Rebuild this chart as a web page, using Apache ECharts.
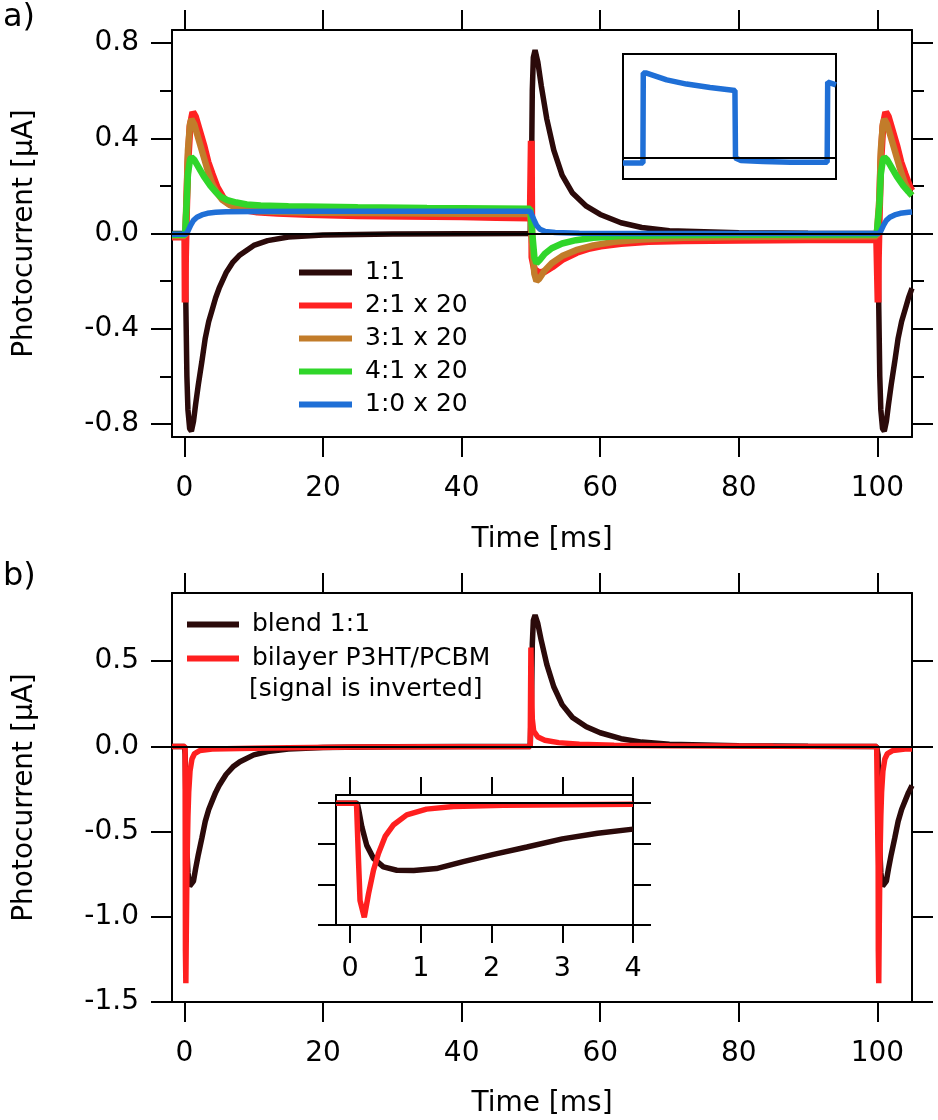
<!DOCTYPE html>
<html><head><meta charset="utf-8">
<script src="https://cdn.jsdelivr.net/npm/echarts@6/dist/echarts.min.js"></script>
<style>html,body{margin:0;padding:0;background:#fff}#c{width:938px;height:1120px}</style>
</head><body><div id="c"></div>
<script>
// ---------- tick / label values ----------
const xTicks = [0, 20, 40, 60, 80, 100];
const yTicksA = [-0.8, -0.4, 0, 0.4, 0.8];
const yMinorA = [-0.6, -0.2, 0.2, 0.6];
const yTicksB = [-1.5, -1, -0.5, 0, 0.5];
const xTicksIn = [0, 1, 2, 3, 4];
const yTicksIn = [-1.5, -1, -0.5, 0];

const namesA = ['1:1', '2:1 x 20', '3:1 x 20', '4:1 x 20', '1:0 x 20'];
const namesB = ['blend 1:1', 'bilayer P3HT/PCBM'];

// panel a, 1:1 (also "blend 1:1" in panel b): time [ms] / photocurrent [uA]
const t11 = [-1.8,0,0.1,0.2,0.35,0.5,0.75,1.0,1.3,1.6,2.0,2.5,3.0,3.5,4.0,4.5,5.0,6,7,8,10,12,15,20,30,40,49.9,
  50,50.1,50.2,50.35,50.6,51,51.5,52.3,53.3,54.5,56,58,60,63,66,70,80,90,99.9,
  100,100.1,100.2,100.35,100.5,100.75,101,101.3,101.6,102,102.5,103,103.5,104,104.5,105];
const v11 = [0,0,-0.05,-0.3,-0.6,-0.74,-0.82,-0.83,-0.79,-0.72,-0.635,-0.54,-0.44,-0.37,-0.32,-0.27,-0.23,-0.165,-0.12,-0.09,-0.05,-0.03,-0.015,-0.006,-0.002,-0.001,0,
  0,0.3,0.6,0.74,0.77,0.72,0.62,0.48,0.35,0.245,0.17,0.115,0.08,0.045,0.025,0.012,0.003,0.001,0,
  0,-0.05,-0.3,-0.6,-0.74,-0.82,-0.83,-0.79,-0.72,-0.635,-0.54,-0.44,-0.37,-0.32,-0.27,-0.23];
// 2:1 x 20
const t21 = [-1.8,0.05,0.1,0.15,0.3,0.5,0.8,1.2,1.6,2.2,2.8,3.4,4.0,4.7,5.5,6.2,7.5,8.6,10.5,13.4,18,25,32,40,45,49.9,
  50.0,50.05,50.15,50.5,51.2,52.0,53.1,54.5,56.6,58.5,60.1,63,67,72,80,90,99.9,
  100.05,100.1,100.15,100.3,100.5,100.8,101.2,101.6,102.2,102.8,103.4,104.0,104.7,105];
const v21 = [-0.015,-0.015,-0.29,-0.1,0.1,0.3,0.45,0.51,0.49,0.43,0.37,0.3,0.25,0.195,0.155,0.13,0.11,0.1,0.09,0.085,0.08,0.075,0.072,0.07,0.067,0.065,
  0.065,0.39,-0.1,-0.15,-0.165,-0.16,-0.14,-0.11,-0.08,-0.062,-0.053,-0.042,-0.034,-0.03,-0.028,-0.026,-0.025,
  -0.025,-0.29,-0.1,0.1,0.3,0.45,0.51,0.49,0.43,0.37,0.3,0.25,0.195,0.18];
// 3:1 x 20
const t31 = [-1.8,0.1,0.3,0.5,0.8,1.0,1.4,2.0,2.8,3.4,4.0,4.7,5.5,6.5,8,10,14,20,30,40,49.9,
  50.0,50.2,50.5,50.8,51.2,52,53,54.5,56.5,59,62,66,72,80,90,99.9,
  100.1,100.3,100.5,100.8,101.0,101.4,102.0,102.8,103.4,104.0,104.7,105];
const v31 = [-0.01,-0.01,0.15,0.35,0.46,0.48,0.46,0.4,0.32,0.26,0.21,0.17,0.14,0.12,0.105,0.095,0.09,0.087,0.085,0.083,0.082,
  0.082,-0.05,-0.17,-0.2,-0.19,-0.155,-0.125,-0.095,-0.07,-0.05,-0.035,-0.025,-0.018,-0.015,-0.013,-0.012,
  -0.012,0.15,0.35,0.46,0.48,0.46,0.4,0.32,0.26,0.21,0.17,0.16];
// 4:1 x 20
const t41 = [-1.8,0.1,0.3,0.5,0.8,1.0,1.4,2.0,2.8,3.75,4.5,5.2,6.2,7.5,9,11,15,25,35,45,49.9,
  50.0,50.2,50.5,50.8,51.3,52,53,54.5,56.5,59,63,70,80,99.9,
  100.1,100.3,100.5,100.8,101.0,101.4,102.0,102.8,103.75,104.5,105];
const v41 = [-0.005,-0.005,0.12,0.25,0.31,0.32,0.31,0.28,0.24,0.2,0.175,0.155,0.14,0.13,0.122,0.118,0.115,0.11,0.107,0.105,0.104,
  0.104,0.0,-0.1,-0.125,-0.11,-0.085,-0.062,-0.042,-0.028,-0.018,-0.011,-0.007,-0.005,-0.004,
  -0.004,0.12,0.25,0.31,0.32,0.31,0.28,0.24,0.2,0.175,0.16];
// 1:0 x 20
const t10 = [-1.8,0.2,0.5,0.9,1.3,1.8,2.5,3.3,4.5,6,10,20,35,49.9,
  50.1,50.4,50.8,51.3,52,53.5,57,65,80,99.9,
  100.2,100.5,100.9,101.3,101.8,102.5,103.3,104.5,105];
const v10 = [-0.003,-0.003,0.01,0.035,0.055,0.068,0.078,0.085,0.089,0.091,0.092,0.093,0.093,0.093,
  0.085,0.06,0.035,0.018,0.009,0.004,0.001,0,0,0,
  0,0.01,0.035,0.055,0.068,0.078,0.085,0.089,0.09];
// inset of panel a (1:0 trace)
const tInA = [-11,-0.2,0,1.8,12.7,23.5,36.2,49.7,50.0,53,65,80,99.7,100,101,104.5];
const vInA = [-0.006,-0.006,0.1,0.1,0.092,0.087,0.083,0.0795,0.0,-0.003,-0.004,-0.005,-0.005,0.0894,0.0894,0.086];
// panel b: bilayer P3HT/PCBM
const tBi = [-1.8,0.09,0.118,0.14,0.2,0.26,0.33,0.4,0.5,0.61,0.8,1.08,1.46,2.2,3.1,4.0,6,10,15,25,35,49.9,
  50.0,50.08,50.2,50.4,51,52,54,57,62,70,85,99.9,
  100.09,100.118,100.14,100.2,100.26,100.33,100.4,100.5,100.61,100.8,101.08,101.46,102.2,103.1,104,105];
const vBi = [0,0,-0.7,-1.2,-1.39,-1.115,-0.826,-0.62,-0.41,-0.27,-0.145,-0.074,-0.042,-0.025,-0.02,-0.016,-0.014,-0.011,-0.008,-0.004,-0.002,0,
  0.58,0.38,0.16,0.09,0.055,0.036,0.022,0.012,0.006,0.003,0.001,0,
  0,-0.7,-1.2,-1.39,-1.115,-0.826,-0.62,-0.41,-0.27,-0.145,-0.074,-0.042,-0.025,-0.02,-0.016,-0.015];
// inset of panel b (first 4 ms)
const tInBk = [-0.2,0.1,0.12,0.165,0.235,0.33,0.47,0.66,0.9,1.22,1.6,2.03,2.5,3.0,3.5,4.0];
const vInBk = [0,0,-0.08,-0.29,-0.52,-0.68,-0.785,-0.826,-0.83,-0.806,-0.72,-0.63,-0.54,-0.44,-0.37,-0.32];
const tInBr = [-0.2,0.09,0.118,0.14,0.2,0.26,0.33,0.4,0.495,0.61,0.8,1.08,1.46,2.17,3.1,4.0];
const vInBr = [0,0,-0.7,-1.2,-1.405,-1.115,-0.826,-0.62,-0.41,-0.27,-0.145,-0.074,-0.042,-0.025,-0.02,-0.015];

// ---------- build ----------
const FONT = 'DejaVu Sans';
const C = { k: '#2b0a0a', r: '#ff2222', o: '#c27c2a', g: '#30d62a', b: '#1f6fd6', r2: '#ff1f1f' };
const P = (t, v) => t.map((x, i) => [x, v[i]]);
const line = () => ({ color: '#000', width: 2 });
const off = () => ({ show: false });
const tick = (vals, len) => ({ show: true, inside: false, length: len, customValues: vals, lineStyle: line() });
const lbl = (vals, size, margin, fmt) => ({ show: true, customValues: vals, fontFamily: FONT, fontSize: size, color: '#000', margin: margin, formatter: fmt });
const nameStyle = () => ({ fontFamily: FONT, fontSize: 28, color: '#000' });
const ax = (o) => Object.assign({ type: 'value', splitLine: off(), axisLine: { show: true, onZero: false, lineStyle: line() } }, o);
const hiddenLine = () => ({ show: false, onZero: false });

const xAxis = [
  ax({ gridIndex: 0, min: -1.8, max: 105, position: 'bottom', axisTick: tick(xTicks, 20), axisLabel: lbl(xTicks, 28, 38, v => String(v)),
    name: 'Time [ms]', nameLocation: 'middle', nameGap: 89, nameTextStyle: nameStyle() }),
  ax({ gridIndex: 0, min: -1.8, max: 105, position: 'top', axisTick: tick(xTicks, 20), axisLabel: off() }),
  ax({ gridIndex: 1, min: -11, max: 104.5, show: false }),
  ax({ gridIndex: 2, min: -1.8, max: 105, position: 'bottom', axisTick: tick(xTicks, 20), axisLabel: lbl(xTicks, 28, 38, v => String(v)),
    name: 'Time [ms]', nameLocation: 'middle', nameGap: 88, nameTextStyle: nameStyle() }),
  ax({ gridIndex: 2, min: -1.8, max: 105, position: 'top', axisTick: tick(xTicks, 20), axisLabel: off() }),
  ax({ gridIndex: 3, min: -0.2, max: 4, position: 'bottom', axisTick: tick(xTicksIn, 18), axisLabel: lbl(xTicksIn, 27, 30, v => String(v)) }),
  ax({ gridIndex: 3, min: -0.2, max: 4, position: 'top', axisTick: tick(xTicksIn, 18), axisLabel: off() })
];
const yAxis = [
  ax({ gridIndex: 0, min: -0.855, max: 0.855, position: 'left', axisTick: tick(yTicksA, 21), axisLabel: lbl(yTicksA, 28, 33, v => v.toFixed(1)),
    name: 'Photocurrent [µA]', nameLocation: 'middle', nameGap: 133, nameTextStyle: nameStyle() }),
  ax({ gridIndex: 0, min: -0.855, max: 0.855, position: 'right', axisTick: tick(yTicksA, 21), axisLabel: off() }),
  ax({ gridIndex: 0, min: -0.855, max: 0.855, position: 'left', axisLine: hiddenLine(), axisTick: tick(yMinorA, 12), axisLabel: off() }),
  ax({ gridIndex: 0, min: -0.855, max: 0.855, position: 'right', axisLine: hiddenLine(), axisTick: tick(yMinorA, 12), axisLabel: off() }),
  ax({ gridIndex: 1, min: -0.0247, max: 0.1224, show: false }),
  ax({ gridIndex: 2, min: -1.5, max: 0.9, position: 'left', axisTick: tick(yTicksB, 21), axisLabel: lbl(yTicksB, 28, 33, v => v.toFixed(1)),
    name: 'Photocurrent [µA]', nameLocation: 'middle', nameGap: 133, nameTextStyle: nameStyle() }),
  ax({ gridIndex: 2, min: -1.5, max: 0.9, position: 'right', axisTick: tick(yTicksB, 21), axisLabel: off() }),
  ax({ gridIndex: 3, min: -1.5, max: 0.1, position: 'left', axisTick: tick(yTicksIn, 18), axisLabel: off() }),
  ax({ gridIndex: 3, min: -1.5, max: 0.1, position: 'right', axisTick: tick(yTicksIn, 18), axisLabel: off() })
];
const zero = () => ({ markLine: { silent: true, symbol: ['none', 'none'], label: { show: false }, animation: false,
  lineStyle: { color: '#000', width: 2, type: 'solid' }, data: [{ yAxis: 0 }] } });
function S(name, xi, yi, data, color, width, extra) {
  return Object.assign({ type: 'line', name: name, xAxisIndex: xi, yAxisIndex: yi, data: data, color: color,
    showSymbol: false, symbol: 'none', silent: true, animation: false,
    lineStyle: { color: color, width: width } }, extra || {});
}
const series = [
  S('1:1', 0, 0, P(t11, v11), C.k, 5.5, zero()),
  S('2:1 x 20', 0, 0, P(t21, v21), C.r, 7),
  S('3:1 x 20', 0, 0, P(t31, v31), C.o, 6.5),
  S('4:1 x 20', 0, 0, P(t41, v41), C.g, 6.5),
  S('1:0 x 20', 0, 0, P(t10, v10), C.b, 5.5),
  S('inset a', 2, 4, P(tInA, vInA), C.b, 5.5, zero()),
  S('blend 1:1', 3, 5, P(t11, v11), C.k, 5.5, zero()),
  S('bilayer P3HT/PCBM', 3, 5, P(tBi, vBi), C.r2, 5.5),
  S('inset b blend', 5, 7, P(tInBk, vInBk), C.k, 5.5, zero()),
  S('inset b bilayer', 5, 7, P(tInBr, vInBr), C.r2, 5.5)
];
const legendText = () => ({ fontFamily: FONT, fontSize: 25, color: '#000', padding: [0, 0, 0, 8] });

const option = {
  backgroundColor: '#fff',
  animation: false,
  grid: [
    { left: 172, top: 30, width: 740, height: 407, outerBoundsMode: 'none' },
    { left: 623, top: 54, width: 213, height: 125, show: true, borderColor: '#000', borderWidth: 2, backgroundColor: 'transparent', outerBoundsMode: 'none' },
    { left: 172, top: 593, width: 740, height: 409, outerBoundsMode: 'none' },
    { left: 336, top: 795, width: 297, height: 130, outerBoundsMode: 'none' }
  ],
  xAxis: xAxis, yAxis: yAxis,
  legend: [
    { data: namesA, orient: 'vertical', left: 299, top: 260, itemWidth: 53, itemHeight: 6, itemGap: 8, icon: 'rect',
      textStyle: legendText(), padding: 0, selectedMode: false },
    { data: namesB, orient: 'vertical', left: 187, top: 612, itemWidth: 52, itemHeight: 6, itemGap: 9, icon: 'rect',
      textStyle: legendText(), padding: 0, selectedMode: false }
  ],
  graphic: [
    { type: 'text', left: 3, top: 2, style: { text: 'a)', fontFamily: FONT, fontSize: 32, fill: '#000' } },
    { type: 'text', left: 3, top: 561, style: { text: 'b)', fontFamily: FONT, fontSize: 32, fill: '#000' } },
    { type: 'text', left: 249, top: 677, style: { text: '[signal is inverted]', fontFamily: FONT, fontSize: 25, fill: '#000' } }
  ],
  series: series
};

const chart = echarts.init(document.getElementById('c'), null, { renderer: 'canvas', width: 938, height: 1120 });
try { chart.setOption(option); } catch (e) { console.error(e); }
</script></body></html>
